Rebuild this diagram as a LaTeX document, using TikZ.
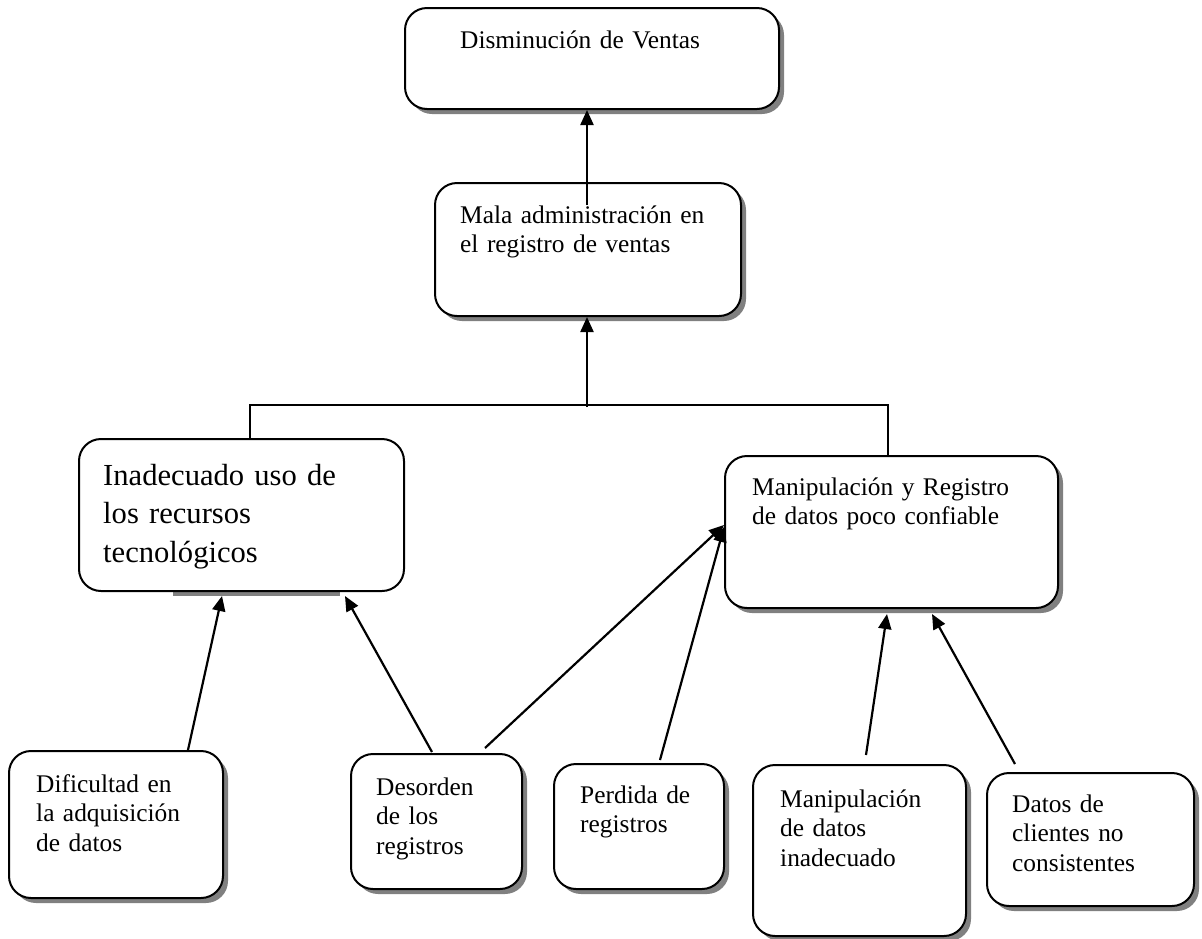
\documentclass[tikz,border=0pt]{standalone}
\usepackage{fontspec}
\setmainfont{Liberation Serif}
\usetikzlibrary{arrows.meta,shadows,calc}
\begin{document}
\begin{tikzpicture}[x=1pt,y=-1pt,
  box/.style={draw, line width=2pt, rounded corners=22pt, fill=white,
    anchor=north west, inner sep=0pt,
    drop shadow={shadow xshift=5pt, shadow yshift=-5pt, fill=black!50, opacity=1}},
  boxns/.style={draw, line width=2pt, rounded corners=22pt, fill=white,
    anchor=north west, inner sep=0pt},
  txt/.style={anchor=base west, align=left, inner sep=0pt, text width=400pt,
    font=\fontsize{25.4}{29.5}\selectfont},
  bigtxt/.style={txt, font=\fontsize{30.6}{38.5}\selectfont},
  conn/.style={line width=2pt},
  arr/.style={line width=2.2pt, -{Triangle[length=15pt,width=13pt]}}]
\useasboundingbox (0,0) rectangle (1202,938);

% boxes
\node[box, minimum width=374pt, minimum height=101pt] (b1) at (404,7) {};
\node[box, minimum width=306pt, minimum height=133pt] (b2) at (434,182) {};
\fill[black!50] (173,588) rectangle (340,596);
\node[boxns, minimum width=325pt, minimum height=152pt] (b3) at (78,438) {};
\node[box, minimum width=333pt, minimum height=152pt] (b4) at (724,455) {};
\node[box, minimum width=214pt, minimum height=147pt] (b5) at (8,750) {};
\node[box, minimum width=171pt, minimum height=135pt] (b6) at (350,753) {};
\node[box, minimum width=170pt, minimum height=125pt] (b7) at (553,763) {};
\node[box, minimum width=213pt, minimum height=171pt] (b8) at (752,764) {};
\node[box, minimum width=207pt, minimum height=133pt] (b9) at (986,772) {};

% texts
\node[txt] (t1) at ($(b1.north west)+(56,41)$) {Disminución de Ventas};
\node[txt] (t2) at ($(b2.north west)+(26,41)$) {Mala administración en\\el registro de ventas};
\node[bigtxt] (t3) at ($(b3.north west)+(25,47)$) {Inadecuado uso de\\los recursos\\tecnológicos};
\node[txt] (t4) at ($(b4.north west)+(28,40)$) {Manipulación y Registro\\de datos poco confiable};
\node[txt] (t5) at ($(b5.north west)+(28,42)$) {Dificultad en\\la adquisición\\de datos};
\node[txt] (t6) at ($(b6.north west)+(26,42)$) {Desorden\\de los\\registros};
\node[txt] (t7) at ($(b7.north west)+(27,40)$) {Perdida de\\registros};
\node[txt] (t8) at ($(b8.north west)+(28,43)$) {Manipulación\\de datos\\inadecuado};
\node[txt] (t9) at ($(b9.north west)+(26,40)$) {Datos de\\clientes no\\consistentes};

% junction coordinates
\coordinate (jn) at ($(b2.south west)+(153,90)$);
\coordinate (jl) at ($(b3.north west)+(172,-33)$);
\coordinate (jr) at ($(b4.north west)+(164,-50)$);

% connectors
\draw[arr] ($(b2.north west)+(153,23)$) -- ($(b1.south west)+(183,0)$);
\draw[arr] (jn) -- ($(b2.south west)+(153,0)$);
\draw[conn] ($(b3.north west)+(172,0)$) -- (jl) -- (jr) -- ($(b4.north west)+(164,0)$);
\draw[arr] ($(b5.north west)+(180,0)$) -- ($(b3.south west)+(144,4)$);
\draw[arr] ($(b6.north west)+(82,-1)$) -- ($(b3.south west)+(267,4)$);
\draw[arr] ($(b6.north west)+(135,-5)$) -- ($(b4.north west)+(0,70)$);
\draw[arr] ($(b7.north west)+(107,-3)$) -- ($(b4.north west)+(0,72)$);
\draw[arr] ($(b8.north west)+(114,-9)$) -- ($(b4.south west)+(163,5)$);
\draw[arr] ($(b9.north west)+(29,-8)$) -- ($(b4.south west)+(208,5)$);
\end{tikzpicture}
\end{document}
